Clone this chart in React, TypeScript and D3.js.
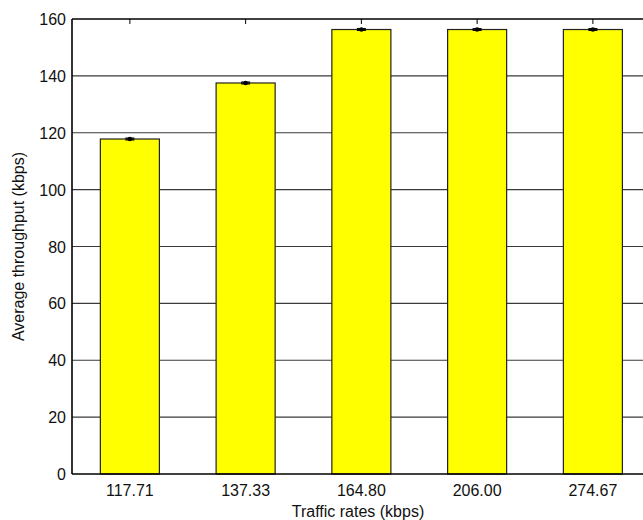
import React from "react";
import * as d3 from "d3";

// Traffic rates (kbps) on the x axis
const categories: string[] = ["117.71", "137.33", "164.80", "206.00", "274.67"];
// Mean throughput per traffic rate (kbps)
const throughput: number[] = [117.8, 137.5, 156.3, 156.3, 156.3];
// Half-width of the confidence interval for each mean
const errors: number[] = [0.3, 0.3, 0.3, 0.3, 0.3];
const yTicks: number[] = [0, 20, 40, 60, 80, 100, 120, 140, 160];

const W = 643;
const H = 520;
const left = 72;
const right = 650.75;
const top = 19;
const bottom = 474;
const font = "Arial, 'Liberation Sans', Helvetica, sans-serif";

export default function App() {
  const x = d3
    .scaleBand<string>()
    .domain(categories)
    .range([left, right])
    .paddingInner(0.49)
    .paddingOuter(0.245);
  const y = d3.scaleLinear().domain([0, 160]).range([bottom, top]);
  const bw = x.bandwidth();

  return (
    <svg
      width={W}
      height={H}
      style={{ position: "absolute", left: 0, top: 0, background: "#fff" }}
      fontFamily={font}
    >
      {/* horizontal grid */}
      {yTicks.slice(1, -1).map((t) => (
        <line
          key={"g" + t}
          x1={left}
          x2={right}
          y1={y(t)}
          y2={y(t)}
          stroke="#3a3a3a"
          strokeWidth={1.2}
        />
      ))}
      {/* bars */}
      {categories.map((c, i) => (
        <rect
          key={"b" + c}
          x={x(c)!}
          y={y(throughput[i])}
          width={bw}
          height={y(0) - y(throughput[i])}
          fill="#ffff00"
          stroke="#222"
          strokeWidth={1.2}
        />
      ))}
      {/* error bars */}
      {categories.map((c, i) => {
        const cx = x(c)! + bw / 2;
        const lo = y(throughput[i] - errors[i]);
        const hi = y(throughput[i] + errors[i]);
        return (
          <g key={"e" + c} stroke="#000" strokeWidth={1.3}>
            <line x1={cx} x2={cx} y1={lo} y2={hi} />
            <line x1={cx - 4.5} x2={cx + 4.5} y1={lo} y2={lo} />
            <line x1={cx - 4.5} x2={cx + 4.5} y1={hi} y2={hi} />
            <circle cx={cx} cy={y(throughput[i])} r={1.6} fill="#000" />
          </g>
        );
      })}
      {/* frame */}
      <line x1={left} x2={right} y1={top} y2={top} stroke="#000" strokeWidth={1.6} />
      <line x1={left} x2={right} y1={bottom} y2={bottom} stroke="#000" strokeWidth={1.6} />
      <line x1={left} x2={left} y1={top} y2={bottom} stroke="#000" strokeWidth={1.6} />
      {/* top ticks */}
      {categories.map((c) => {
        const cx = x(c)! + bw / 2;
        return (
          <line key={"t" + c} x1={cx} x2={cx} y1={top} y2={top + 5} stroke="#000" strokeWidth={1} />
        );
      })}
      {/* y tick labels */}
      {yTicks.map((t) => (
        <text
          key={"yl" + t}
          x={66}
          y={y(t) + 6}
          textAnchor="end"
          fontSize={16}
          fill="#111"
        >
          {t}
        </text>
      ))}
      {/* x tick labels */}
      {categories.map((c) => (
        <text
          key={"xl" + c}
          x={x(c)! + bw / 2}
          y={496}
          textAnchor="middle"
          fontSize={16}
          fill="#111"
        >
          {c}
        </text>
      ))}
      <text x={358} y={517} textAnchor="middle" fontSize={16} fill="#111">
        Traffic rates (kbps)
      </text>
      <text
        transform={`translate(24, ${(top + bottom) / 2}) rotate(-90)`}
        textAnchor="middle"
        fontSize={16}
        fill="#111"
      >
        Average throughput (kbps)
      </text>
    </svg>
  );
}
